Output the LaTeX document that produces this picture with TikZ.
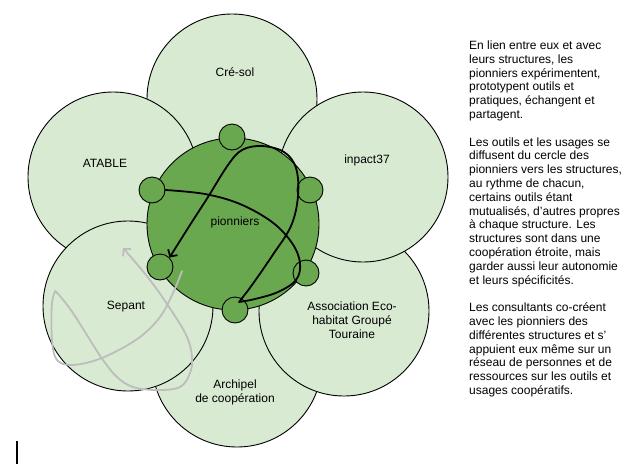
\documentclass[tikz,border=0pt]{standalone}
\usepackage{fontspec}
\setmainfont{Liberation Sans}
\usetikzlibrary{arrows.meta}
\definecolor{petalgreen}{HTML}{D9EAD3}
\definecolor{coregreen}{HTML}{6AA84F}
\definecolor{trailgray}{HTML}{BDBDBD}

\begin{document}
\begin{tikzpicture}[
    x=1pt, y=-1pt,
    petal/.style = {draw, circle, fill=petalgreen, line width=0.9pt, minimum size=170pt, inner sep=0pt},
    core/.style = {draw, circle, fill=coregreen, line width=0.9pt, minimum size=172pt, inner sep=0pt},
    seed/.style = {draw, circle, fill=coregreen, line width=0.9pt, minimum size=26pt, inner sep=0pt},
    lbl/.style = {align=center, inner sep=0pt, font=\fontsize{12}{13.8}\selectfont},
    flow/.style = {line width=1.8pt, line join=round, line cap=round},
    > = {Straight Barb[length=5pt, width=11pt]}
]
\useasboundingbox (0,0) rectangle (632,464);

% the structures, back to front
\node (archipel) [petal] at (237,362) {};
\node (cresol) [petal] at (232,99) {};
\node (atable) [petal] at (113,177) {};
\node (asso) [petal] at (344,311) {};
\node (inpact) [petal] at (363,177) {};
\node (sepant) [petal] at (128,306) {};

% pioneers
\node (pion) [core] at (233,224) {};
\node (st) [seed] at (232,137) {};
\node (ru) [seed] at (310,190) {};
\node (lu) [seed] at (152,190) {};
\node (ll) [seed] at (160,267) {};
\node (rl) [seed] at (306,273) {};
\node (sb) [seed] at (235,310) {};

\draw[flow, ->] plot[smooth, tension=0.6] coordinates {(lu.east) (205,194) (240,204) (272,222) (292,243) (300,263) (296,280) (278,292) (255,299) (239,302)}
    -- plot[smooth, tension=0.6] coordinates {(239,302) (252,285) (272,256) (291,226) (298,196) (296,168) (284,152) (262,146) (242,150) (228,165) (208,197) (190,225) (ll.north east)};

\draw[flow, trailgray, ->] plot[smooth, tension=0.6] coordinates {(182,271) (173,293) (160,317) (140,337) (113,353) (90,362) (70,365) (58,361) (53,349) (51.5,327) (52,303) (55,291)}
    -- plot[smooth, tension=0.6] coordinates {(55,291) (60,296) (73,313) (90,340) (103,360) (117,377) (133,387) (157,390) (180,387) (190,373) (192,357) (187,337) (173,313) (150,280) (123,248)};

% labels
\node (cresol-t) [lbl] at (235,72) {Cré-sol};
\node (atable-t) [lbl] at (105,163) {ATABLE};
\node (inpact-t) [lbl] at (367,160) {inpact37};
\node (pion-t) [lbl] at (235,222) {pionniers};
\node (sepant-t) [lbl] at (126,307) {Sepant};
\node (asso-t) [lbl] at (352,320) {Association Eco-\\habitat Groupé\\Touraine};
\node (archipel-t) [lbl] at (235,392) {Archipel\\de coopération};

\node (notes) [lbl, align=left, anchor=north west] at (469,40.5) {En lien entre eux et avec\\
leurs structures, les\\
pionniers expérimentent,\\
prototypent outils et\\
pratiques, échangent et\\
partagent.\\[13.8pt]
Les outils et les usages se\\
diffusent du cercle des\\
pionniers vers les structures,\\
au rythme de chacun,\\
certains outils étant\\
mutualisés, d’autres propres\\
à chaque structure. Les\\
structures sont dans une\\
coopération étroite, mais\\
garder aussi leur autonomie\\
et leurs spécificités.\\[13.8pt]
Les consultants co-créent\\
avec les pionniers des\\
différentes structures et s’\\
appuient eux même sur un\\
réseau de personnes et de\\
ressources sur les outils et\\
usages coopératifs.};

\draw[line width=1.6pt] (17,441) -- (17,464);
\end{tikzpicture}
\end{document}
